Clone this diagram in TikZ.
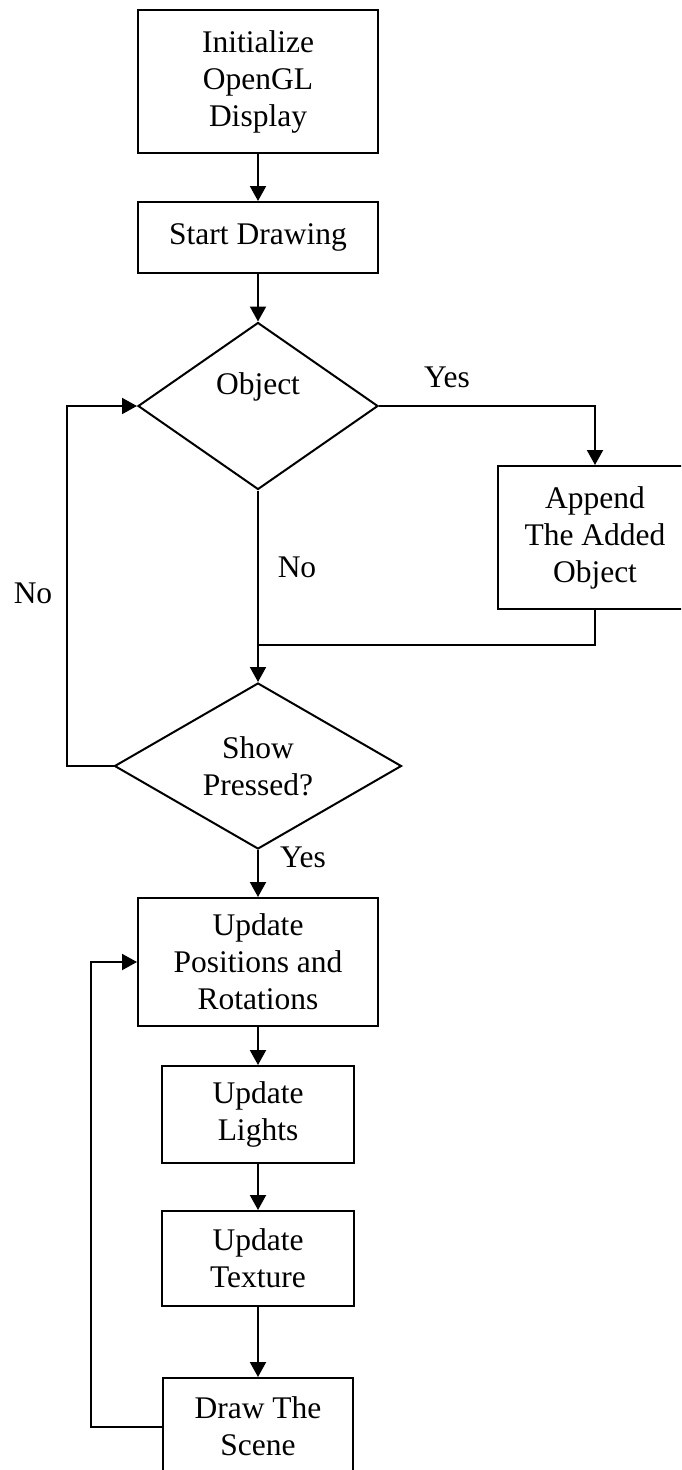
\documentclass[tikz,border=0pt]{standalone}
\usepackage{fontspec}
\setmainfont{Liberation Serif}
\usetikzlibrary{arrows.meta,shapes.geometric}
\tikzset{
  flowline/.style={line width=2pt},
  arr/.style={flowline,-{Triangle[length=15pt,width=16pt]}},
  boxnode/.style={draw,line width=2pt,rectangle,inner sep=0pt,align=center,font=\fontsize{31.5}{37}\selectfont},
  dia/.style={draw,line width=2pt,diamond,inner sep=0pt},
  txt/.style={inner sep=0pt,align=center,font=\fontsize{31.5}{37}\selectfont}
}
\begin{document}
\begin{tikzpicture}[x=1pt,y=-1pt]
\clip (0,0) rectangle (681,1470);
\fill[white] (0,0) rectangle (681,1470);
% boxes
\node[boxnode,minimum width=240pt,minimum height=143pt] (b1) at (258,81.5) {Initialize\\OpenGL\\Display};
\node[boxnode,minimum width=240pt,minimum height=71pt] (b2) at (258,237.5) {Start Drawing};
\node[dia,minimum width=240pt,minimum height=167pt] (d1) at (258,406) {};
\node[txt] (t1) at (258,387) {Object};
\node[boxnode,minimum width=194pt,minimum height=143pt] (app) at (595,537.5) {Append\\The Added\\Object};
\node[dia,minimum width=287pt,minimum height=166pt] (d2) at (258,766) {};
\node[txt] (t2) at (258,766) {Show\\Pressed?};
\node[boxnode,minimum width=240pt,minimum height=128pt] (b3) at (258,962) {Update\\Positions and\\Rotations};
\node[boxnode,minimum width=192pt,minimum height=97pt] (b4) at (258,1114.5) {Update\\Lights};
\node[boxnode,minimum width=192pt,minimum height=95pt] (b5) at (258,1258.5) {Update\\Texture};
\node[boxnode,minimum width=190pt,minimum height=97pt] (b6) at (258,1426.5) {Draw The\\Scene};
% labels
\node[txt] (yes1) at (447,377) {Yes};
\node[txt] (no1) at (297,567) {No};
\node[txt] (no2) at (33,593) {No};
\node[txt] (yes2) at (303,857) {Yes};
% helper coordinates
\coordinate (m) at (258,645);
\coordinate (lx) at (67,766);
\coordinate (rx) at (91,1426.5);
% connectors
\draw[arr] (b1.south) -- (b2.north);
\draw[arr] (b2.south) -- (d1.north);
\draw[arr] (d1.east) -| (app.north);
\draw[arr] (d1.south) -- (d2.north);
\draw[flowline] (app.south) |- (m);
\draw[arr] (d2.west) -- (lx) |- (d1.west);
\draw[arr] (d2.south) -- (b3.north);
\draw[arr] (b3.south) -- (b4.north);
\draw[arr] (b4.south) -- (b5.north);
\draw[arr] (b5.south) -- (b6.north);
\draw[arr] (b6.west) -- (rx) |- (b3.west);
\end{tikzpicture}
\end{document}
